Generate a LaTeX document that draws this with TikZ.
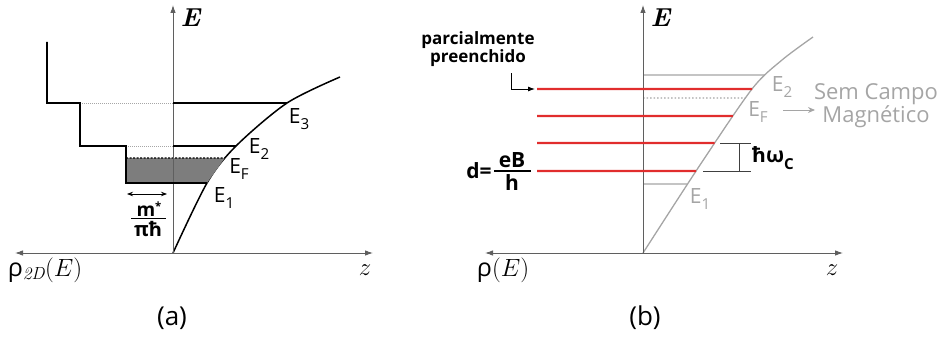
\documentclass[tikz,border=0pt]{standalone}
\usepackage{fontspec}
\usepackage{amsmath}
\newfontfamily\lab{Open Sans}
\usetikzlibrary{arrows.meta,intersections}
\definecolor{lvred}{RGB}{225,45,45}
\definecolor{axgray}{RGB}{95,95,95}
\definecolor{ltgray}{RGB}{165,165,165}
\definecolor{fillgray}{RGB}{125,125,125}
\newcommand\lowsub[1]{\raisebox{-0.32em}{\scalebox{0.72}{#1}}}
\begin{document}
\begin{tikzpicture}[x=1pt,y=-1pt,
  axisln/.style={draw=axgray, line width=0.9pt},
  axtip/.style={-{Latex[length=8pt,width=5.5pt]}},
  axtips/.style={{Latex[length=8pt,width=5.5pt]}-{Latex[length=8pt,width=5.5pt]}},
  lev/.style={draw=black, line width=1.6pt},
  faint/.style={draw=black!35, line width=0.7pt, dash pattern=on 1pt off 1pt},
  dotblack/.style={draw=black, line width=1.1pt, dash pattern=on 2pt off 1.5pt},
  curveA/.style={draw=black, line width=1.5pt},
  curveB/.style={draw=ltgray, line width=1.3pt},
  grayln/.style={draw=ltgray, line width=1.3pt},
  grayDot/.style={draw=ltgray, line width=1.3pt, dash pattern=on 1.5pt off 2pt},
  redlev/.style={draw=lvred, line width=2.2pt},
  lbl/.style={font=\lab\fontsize{21}{21}\selectfont, inner sep=0pt},
  glbl/.style={lbl, text=ltgray},
  bold/.style={font=\lab\bfseries\fontsize{17}{18}\selectfont, inner sep=0pt},
  fracpart/.style={font=\lab\bfseries\fontsize{19}{19}\selectfont, inner sep=0pt},
  fracbar/.style={draw=black, line width=1.1pt},
  mathlbl/.style={font=\fontsize{25}{25}\selectfont, inner sep=0pt},
  axE/.style={font=\fontsize{26}{26}\selectfont\bfseries, inner sep=0pt},
  caption/.style={font=\lab\fontsize{26}{26}\selectfont, inner sep=0pt},
]
\useasboundingbox (0,0) rectangle (941,337);

% ================= panel (a) =================
\coordinate (Ao) at (173,253);
\coordinate (Atop) at (173,5);
\coordinate (Aleft) at (15,253);
\coordinate (Aright) at (373,253);

\draw[curveA, name path=cA] plot[smooth] coordinates {(173,253) (207,183) (236,146) (287,103) (340,77)};

\path[name path=hA1] (150,183) -- (400,183);
\path[name path=hAF] (150,158) -- (400,158);
\path[name path=hA2] (150,146) -- (400,146);
\path[name path=hA3] (150,103) -- (400,103);
\path[name intersections={of=cA and hA1, by=A1}];
\path[name intersections={of=cA and hAF, by=AF}];
\path[name intersections={of=cA and hA2, by=A2}];
\path[name intersections={of=cA and hA3, by=A3}];

\coordinate (AFl) at (126,158);
\coordinate (A1l) at (126,183);
\fill[fillgray] (AFl) -- (A1l) -- (A1) -- (AF) -- cycle;
\draw[dotblack] (AFl) -- (AF);

\draw[axisln, axtip] (Ao) -- (Atop);
\draw[axisln, axtips] (Aleft) -- (Aright);

\draw[lev] (47,42) -- (47,103) -- (80,103) -- (80,146) -- (126,146) -- (A1l) -- (A1);
\coordinate (A3l) at (173,103);
\coordinate (A2l) at (173,146);
\draw[lev] (A3l) -- (A3);
\draw[lev] (A2l) -- (A2);
\draw[faint] (82,103) -- (A3l);
\draw[faint] (128,146) -- (A2l);

\coordinate (DAl) at (127,194);
\coordinate (DAr) at (167,194);
\draw[draw=black, line width=0.8pt, {Stealth[length=6pt,width=4.5pt]}-{Stealth[length=6pt,width=4.5pt]}] (DAl) -- (DAr);
\node[fracpart] (numA) at (149,209) {m\raisebox{0.35em}{\scalebox{0.6}{*}}};
\node[fracpart, font=\lab\bfseries\fontsize{20}{20}\selectfont] (denA) at (148,229) {πħ};
\coordinate (barAl) at (131,218.5);
\coordinate (barAr) at (166,218.5);
\draw[fracbar] (barAl) -- (barAr);

\node[lbl] (E3a) at (299,119) {E\lowsub{3}};
\node[lbl] (E2a) at (259,149) {E\lowsub{2}};
\node[lbl] (EFa) at (239,169) {E\lowsub{F}};
\node[lbl] (E1a) at (224,198) {E\lowsub{1}};

\node[axE] (EaxA) at (191,18) {\textit{E}};
\node[mathlbl] (zA) at (365,270) {$z$};
\node[mathlbl] (rhoA) at (45,270) {{\lab ρ}$_{\mathit{2D}}(E)$};
\node[caption] (capA) at (172,318) {(a)};

% ================= panel (b) =================
\coordinate (Bo) at (643,253);
\coordinate (Btop) at (643,5);
\coordinate (Bleft) at (485,253);
\coordinate (Bright) at (843,253);

\draw[curveB, name path=cB] plot[smooth] coordinates {(643,253) (700,165) (752,89) (782,60) (813,37)};

\path[name path=hB2] (600,75) -- (900,75);
\path[name path=hBr1] (600,89) -- (900,89);
\path[name path=hBF] (600,98) -- (900,98);
\path[name path=hBr2] (600,116) -- (900,116);
\path[name path=hBr3] (600,143) -- (900,143);
\path[name path=hBr4] (600,171) -- (900,171);
\path[name path=hB1] (600,184) -- (900,184);
\path[name intersections={of=cB and hB2, by=B2}];
\path[name intersections={of=cB and hBr1, by=R1}];
\path[name intersections={of=cB and hBF, by=BF}];
\path[name intersections={of=cB and hBr2, by=R2}];
\path[name intersections={of=cB and hBr3, by=R3}];
\path[name intersections={of=cB and hBr4, by=R4}];
\path[name intersections={of=cB and hB1, by=B1}];

\coordinate (B2l) at (643,75);
\coordinate (BFl) at (643,98);
\coordinate (B1l) at (643,184);
\draw[grayln] (B2l) -- (B2);
\draw[grayln] (B1l) -- (B1);
\draw[grayDot] (BFl) -- (BF);

\draw[axisln, axtip] (Bo) -- (Btop);
\draw[axisln, axtips] (Bleft) -- (Bright);

\coordinate (R1l) at (537,89);
\coordinate (R2l) at (537,116);
\coordinate (R3l) at (537,143);
\coordinate (R4l) at (537,171);
\draw[redlev] (R1l) -- (R1);
\draw[redlev] (R2l) -- (R2);
\draw[redlev] (R3l) -- (R3);
\draw[redlev] (R4l) -- (R4);

% hbar omega_c bracket
\coordinate (HWt1) at (720,143);
\coordinate (HWt2) at (751,143);
\coordinate (HWb1) at (703,171);
\coordinate (HWb2) at (751,171);
\coordinate (HWvt) at (739,143);
\coordinate (HWvb) at (739,171);
\draw[draw=black!75, line width=1pt] (HWt1) -- (HWt2);
\draw[draw=black!75, line width=1pt] (HWb1) -- (HWb2);
\draw[draw=black!75, line width=1pt] (HWvt) -- (HWvb);
\node[font=\lab\bfseries\fontsize{21}{21}\selectfont, inner sep=0pt, anchor=west] (hw) at (752,158) {ħω\lowsub{C}};

\node[glbl] (E2b) at (782,87) {E\lowsub{2}};
\node[glbl] (EFb) at (758,112) {E\lowsub{F}};
\node[glbl] (E1b) at (700,199) {E\lowsub{1}};

\coordinate (GAl) at (783,110);
\coordinate (GAr) at (815,110);
\draw[draw=ltgray, line width=1pt, -{Stealth[length=7pt,width=6pt]}] (GAl) -- (GAr);
\node[glbl, align=center, font=\lab\fontsize{22}{22}\selectfont] (sem) at (876,106) {Sem Campo\\Magnético};

\node[bold, align=center] (parc) at (478,49) {parcialmente\\preenchido};
\coordinate (PAt) at (511,73);
\coordinate (PAc) at (511,89);
\coordinate (PAe) at (535,89);
\draw[draw=black, line width=0.9pt, -{Latex[length=7pt,width=5pt]}] (PAt) -- (PAc) -- (PAe);

\node[fracpart, font=\lab\bfseries\fontsize{21}{21}\selectfont] (dEq) at (479,171) {d=};
\node[fracpart, font=\lab\bfseries\fontsize{21}{21}\selectfont] (numB) at (512,160) {eB};
\node[fracpart, font=\lab\bfseries\fontsize{21}{21}\selectfont] (denB) at (512,183) {h};
\coordinate (barBl) at (494,171);
\coordinate (barBr) at (531,171);
\draw[fracbar] (barBl) -- (barBr);

\node[axE] (EaxB) at (661,18) {\textit{E}};
\node[mathlbl] (zB) at (832,270) {$z$};
\node[mathlbl] (rhoB) at (503,270) {{\lab ρ}$(E)$};
\node[caption] (capB) at (645,318) {(b)};
\end{tikzpicture}
\end{document}
